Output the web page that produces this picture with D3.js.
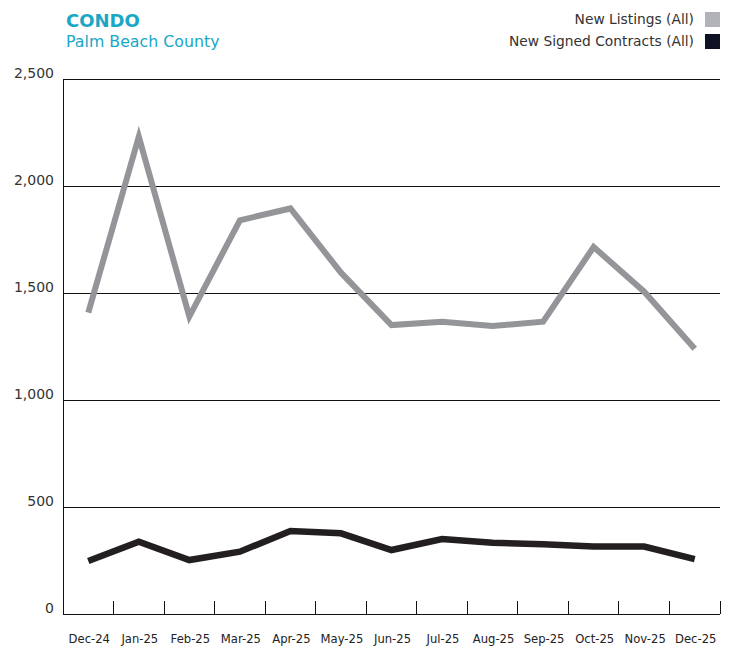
<!DOCTYPE html>
<html><head><meta charset="utf-8">
<script src="https://cdn.jsdelivr.net/npm/d3@7"></script>
<style>body{margin:0;background:#fff;} text{font-family:"DejaVu Sans",sans-serif;}</style>
</head><body>
<svg id="c" width="729" height="648"></svg>
<script>
const months = ["Dec-24","Jan-25","Feb-25","Mar-25","Apr-25","May-25","Jun-25","Jul-25","Aug-25","Sep-25","Oct-25","Nov-25","Dec-25"];
const newListings = [1408,2230,1390,1840,1895,1595,1350,1366,1346,1366,1715,1506,1240];
const signedContracts = [248,338,252,291,388,377,299,350,333,326,315,315,256];
const yTicks = [0,500,1000,1500,2000,2500];
const seriesNames = ["New Listings (All)","New Signed Contracts (All)"];

const svg = d3.select("#c");
const L=63,R=720,T=79,B=614;
const x = d3.scaleBand().domain(months).range([L,R]).padding(0);
const y = d3.scaleLinear().domain([0,2500]).range([B,T]);

svg.append("g").selectAll("line").data(yTicks).join("line")
  .attr("x1",L).attr("x2",R).attr("y1",d=>y(d)).attr("y2",d=>y(d))
  .attr("stroke","#111").attr("stroke-width",1).attr("shape-rendering","crispEdges");
svg.append("line").attr("x1",L).attr("x2",L).attr("y1",T).attr("y2",B)
  .attr("stroke","#111").attr("shape-rendering","crispEdges");
svg.append("g").selectAll("text").data(yTicks).join("text")
  .attr("x",54).attr("y",d=>y(d)-1).attr("text-anchor","end")
  .attr("font-size",14).attr("fill","#333").text(d=>d3.format(",")(d));
const bounds = months.slice(1).map(m=>x(m)).concat([R]);
svg.append("g").selectAll("line").data(bounds).join("line")
  .attr("x1",d=>d).attr("x2",d=>d).attr("y1",B-13).attr("y2",B)
  .attr("stroke","#111").attr("shape-rendering","crispEdges");
svg.append("g").selectAll("text").data(months).join("text")
  .attr("x",d=>x(d)+x.bandwidth()/2+1).attr("y",643).attr("text-anchor","middle")
  .attr("font-size",11.6).attr("fill","#222").text(d=>d);

const line = d3.line().x((d,i)=>x(months[i])+x.bandwidth()/2).y(d=>y(d));
svg.append("path").datum(newListings).attr("d",line).attr("fill","none")
  .attr("stroke","#939598").attr("stroke-width",6);
svg.append("path").datum(signedContracts).attr("d",line).attr("fill","none")
  .attr("stroke","#231f20").attr("stroke-width",6.5);

svg.append("text").attr("x",66).attr("y",27).attr("font-size",18).attr("font-weight",700)
  .attr("fill","#1aa7c6").text("CONDO");
svg.append("text").attr("x",66).attr("y",47).attr("font-size",15.8)
  .attr("fill","#1aa7c6").text("Palm Beach County");
const legColors = ["#b1b3b8","#0f1125"];
seriesNames.forEach((n,i)=>{
  svg.append("text").attr("x",694).attr("y",24+i*22).attr("text-anchor","end")
    .attr("font-size",13.8).attr("fill","#333").text(n);
  svg.append("rect").attr("x",705).attr("y",12+i*22).attr("width",15).attr("height",15)
    .attr("fill",legColors[i]);
});
</script>
</body></html>
